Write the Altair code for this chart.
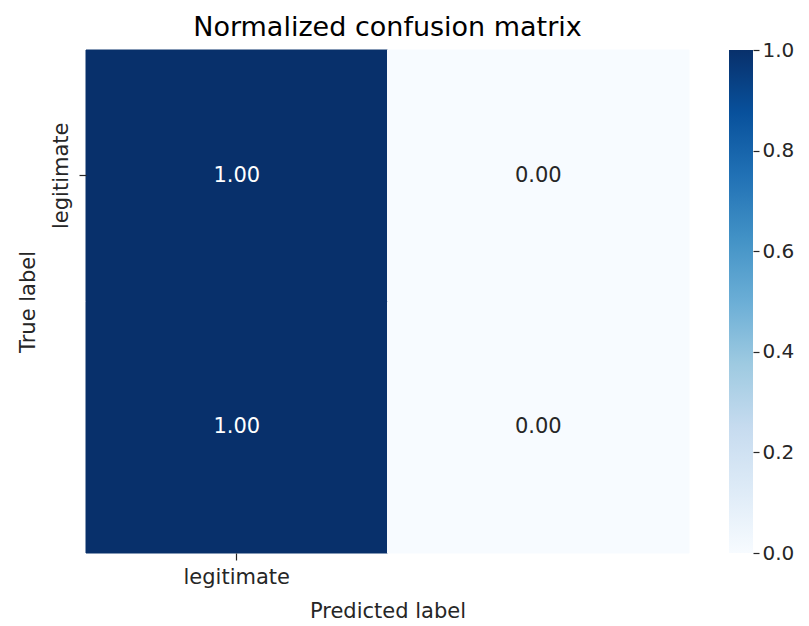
import json
import altair as alt
import pandas as pd

# Confusion matrix (normalized): rows = true label index, cols = predicted label index
true_idx = [0, 0, 1, 1]
pred_idx = [0, 1, 0, 1]
values = [1.00, 0.00, 1.00, 0.00]
tick_labels = ["legitimate"]          # only one class name is shown on each axis
label_positions = [0]

# colorbar
cbar_min = [0.0]
cbar_max = [1.0]
cbar_ticks = [0.0, 0.2, 0.4, 0.6, 0.8, 1.0]

# matplotlib "Blues" colormap stops
blues_colors = ["#f7fbff", "#deebf7", "#c6dbef", "#9ecae1", "#6baed6",
                "#4292c6", "#2171b5", "#08519c", "#08306b"]
blues_domain = [0.0, 0.125, 0.25, 0.375, 0.5, 0.625, 0.75, 0.875, 1.0]

df = pd.DataFrame({"true": true_idx, "pred": pred_idx, "value": values})
cbar_df = pd.DataFrame({"lo": cbar_min, "hi": cbar_max})

FONT = "DejaVu Sans"
TXT = "#262626"
label_expr = json.dumps(tick_labels) + "[datum.value]"

x_enc = alt.X(
    "pred:O",
    scale=alt.Scale(domain=[0, 1], paddingInner=0, paddingOuter=0),
    axis=alt.Axis(
        title="Predicted label", values=label_positions, labelExpr=label_expr,
        labelAngle=0, tickSize=7, labelPadding=6, titlePadding=13,
    ),
)
y_enc = alt.Y(
    "true:O",
    scale=alt.Scale(domain=[0, 1], paddingInner=0, paddingOuter=0),
    axis=alt.Axis(
        title="True label", values=label_positions, labelExpr=label_expr,
        labelAngle=-90, tickSize=7, labelPadding=8, titlePadding=12,
    ),
)

color_scale = alt.Scale(domain=blues_domain, range=blues_colors, type="linear")

heat = alt.Chart(df).mark_rect(strokeWidth=1).encode(
    x=x_enc,
    y=y_enc,
    color=alt.Color("value:Q", scale=color_scale, legend=None),
    stroke=alt.Stroke("value:Q", scale=color_scale, legend=None),
)

text = alt.Chart(df).mark_text(font=FONT, fontSize=21).encode(
    x=x_enc,
    y=y_enc,
    text=alt.Text("value:Q", format=".2f"),
    color=alt.condition(alt.datum.value > 0.5, alt.value("white"), alt.value(TXT)),
)

matrix = alt.layer(heat, text).properties(
    width=603,
    height=503,
    title=alt.Title("Normalized confusion matrix", fontSize=27, font=FONT,
                    fontWeight="normal", color="black", offset=8),
)

gradient = alt.Gradient(
    gradient="linear",
    stops=[alt.GradientStop(color=c, offset=o) for c, o in zip(blues_colors, blues_domain)],
    x1=0, x2=0, y1=1, y2=0,
)

cbar = alt.Chart(cbar_df).mark_rect(color=gradient, strokeWidth=0).encode(
    y=alt.Y(
        "lo:Q",
        scale=alt.Scale(domain=[cbar_min[0], cbar_max[0]], nice=False, zero=False),
        axis=alt.Axis(
            orient="right", title=None, values=cbar_ticks, format=".1f",
            tickSize=6, labelPadding=3, grid=False, labelFontSize=20,
        ),
    ),
    y2="hi:Q",
).properties(width=24, height=503)

chart = (
    alt.hconcat(matrix, cbar, spacing=40, bounds="flush")
    .properties(background="white",
                padding={"left": 9, "top": 5, "right": 5, "bottom": 0})
    .configure_view(stroke=None)
    .configure_axis(
        domain=False, labelFont=FONT, titleFont=FONT, labelFontSize=21,
        titleFontSize=21, titleFontWeight="normal", labelColor=TXT,
        titleColor=TXT, tickColor=TXT, tickWidth=1.2, grid=False,
    )
)

chart.save("out.html", embed_options={"renderer": "svg", "actions": False})
